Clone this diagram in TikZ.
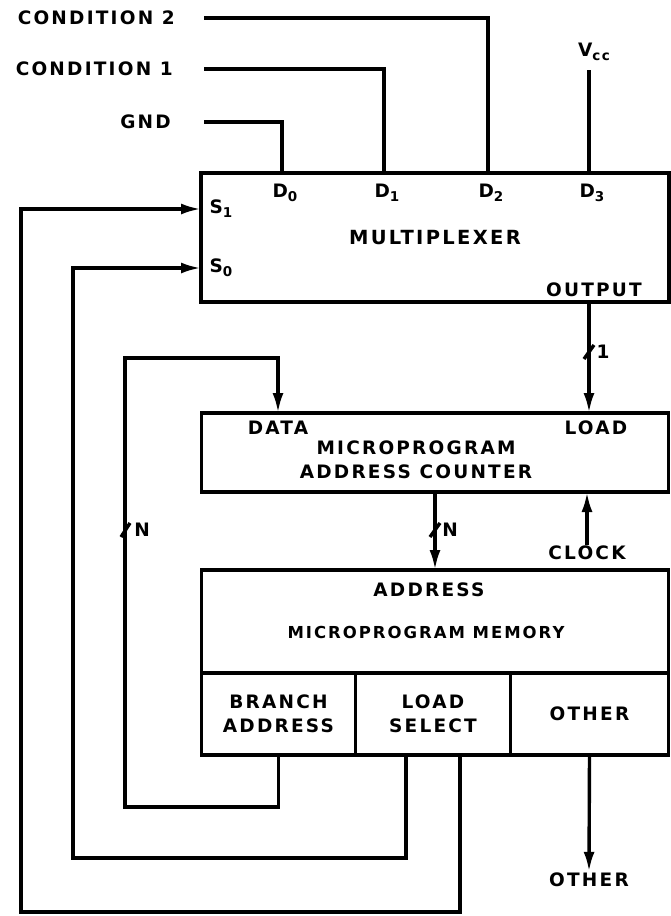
\documentclass[tikz,border=0pt]{standalone}
\usepackage{fontspec}
\newfontfamily\diafont[LetterSpace=12]{DejaVu Sans}
\usetikzlibrary{arrows.meta,positioning}
\newcommand\lsub[1]{\raisebox{-4pt}{\fontsize{13.5}{13.5}\selectfont#1}}

\begin{document}
\begin{tikzpicture}[
  x=1pt,y=-1pt,
  lbl/.style={font={\diafont\bfseries\fontsize{18.5}{24}\selectfont},inner sep=1pt,align=center},
  big/.style={font={\diafont\bfseries\fontsize{19.5}{24}\selectfont}},
  box/.style={draw,line width=3.4pt,outer sep=0pt,inner sep=0pt,lbl},
  wire/.style={line width=3.4pt},
  arr/.style={wire,-{Latex[length=20pt,width=11pt]}}
]
\useasboundingbox (0,0) rectangle (671,916);
% the three blocks
\node[box,big,minimum width=468pt,minimum height=129pt] (mux) at (435,237.5) {MULTIPLEXER};
\node[box,minimum width=467pt,minimum height=79pt,below=111pt of mux] (cnt) {};
\node[box,minimum width=467pt,minimum height=103pt,below=78pt of cnt] (mem) {};
\node[box,minimum width=154pt,minimum height=82pt,anchor=north west] (bra) at (mem.south west) {BRANCH\\ADDRESS};
\node[box,minimum width=155pt,minimum height=82pt,right=0pt of bra] (sel) {LOAD\\SELECT};
\node[box,minimum width=158pt,minimum height=82pt,right=0pt of sel] (oth) {OTHER};
% labels
\node[lbl,anchor=east] (cond2) at (176,18) {CONDITION 2};
\node[lbl,anchor=east] (cond1) at (174,69) {CONDITION 1};
\node[lbl,anchor=east] (gnd) at (172,122) {GND};
\node[lbl] (vcc) at (594,52) {V\lsub{cc}};
\node[lbl] (d0) at (285,193) {D\lsub0};
\node[lbl] (d1) at (387,193) {D\lsub1};
\node[lbl] (d2) at (491,193) {D\lsub2};
\node[lbl] (d3) at (592,193) {D\lsub3};
\node[lbl] (s1) at (221,209) {S\lsub1};
\node[lbl] (s0) at (221,268) {S\lsub0};
\node[lbl] (outp) at (594,290) {OUTPUT};
\node[lbl] (data) at (278,428) {DATA};
\node[lbl] (load) at (596,428) {LOAD};
\node[lbl] (cntname) at (416,460) {MICROPROGRAM\\ADDRESS COUNTER};
\node[lbl] (clk) at (587,553) {CLOCK};
\node[lbl] (addr) at (429,590) {ADDRESS};
\node[lbl,font={\diafont\bfseries\fontsize{16.5}{20}\selectfont}] (memname) at (426,632) {MICROPROGRAM MEMORY};
\node[lbl] (othout) at (589,880) {OTHER};
\node[lbl] (w1) at (603,352) {1};
\node[lbl] (wn1) at (450,530) {N};
\node[lbl] (wn2) at (142,530) {N};
% ports and corners
\coordinate (p0) at (282,173);
\coordinate (p1) at (384,173);
\coordinate (p2) at (488,173);
\coordinate (p3) at (589,173);
\coordinate (bl) at (125,807);
\coordinate (bt) at (125,358);
\coordinate (l0) at (73,858);
\coordinate (l1) at (21,912);
% inputs
\draw[wire] ([xshift=28pt]cond2.east) -| (p2);
\draw[wire] ([xshift=30pt]cond1.east) -| (p1);
\draw[wire] ([xshift=32pt]gnd.east) -| (p0);
\draw[wire] ([yshift=-8pt]vcc.south -| p3) -- (p3);
% data path
\draw[arr] (mux.south -| p3) -- (cnt.north -| p3);
\draw[arr] (cnt.south) -- (mem.north);
\draw[arr] (clk.north) -- (cnt.south -| clk);
\draw[arr] (oth.south) -- (othout.north);
\draw[arr] (bra.south) |- (bl) -- (bt) -| (cnt.north -| data);
\draw[arr] ([xshift=-27pt]sel.south) |- (l0) |- (mux.west |- s0);
\draw[arr] ([xshift=27pt]sel.south) |- (l1) |- (mux.west |- s1);
% bus width marks
\draw[wire] (584,359) -- (594,345);
\draw[wire] (430,537) -- (440,523);
\draw[wire] (121,537) -- (130,523);
\end{tikzpicture}
\end{document}
